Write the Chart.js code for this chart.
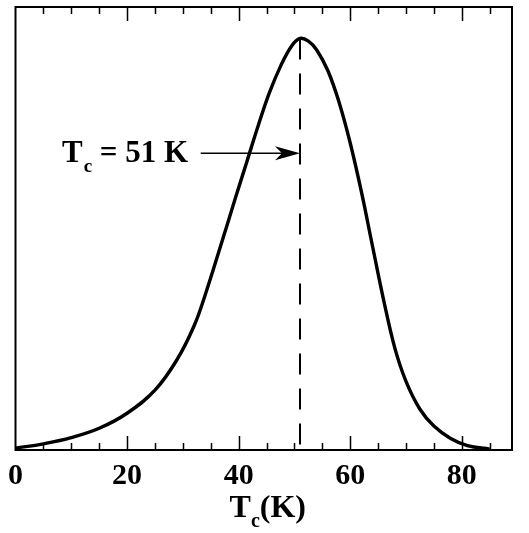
<!DOCTYPE html>
<html>
<head>
<meta charset="utf-8">
<script src="https://cdn.jsdelivr.net/npm/chart.js@4.4.1/dist/chart.umd.min.js"></script>
<style>
  html, body { margin: 0; padding: 0; background: #fff; }
  canvas { display: block; }
</style>
</head>
<body>
<canvas id="tcChart" width="529" height="533"></canvas>
<script>
// Tc distribution (arbitrary units, 0..100 of the plot height)
const tcValues = [0, 5, 10, 15, 20, 25, 29, 32, 34, 37, 39.5, 41.5, 43.5, 45.5, 47.5, 49.5, 51, 52.5, 54, 56, 58, 60, 62, 64, 66, 68, 70, 72.5, 75, 78, 81, 85];
const distValues = [0.4, 1.4, 2.8, 4.9, 8.3, 13.5, 20.5, 28.0, 35.0, 47.0, 57.2, 65.2, 73.2, 80.6, 86.6, 91.2, 92.9, 92.3, 90.3, 85.6, 78.5, 69.3, 58.3, 46.0, 33.8, 23.0, 15.5, 9.2, 5.4, 2.6, 1.0, 0.2];
const xTicks = [0, 20, 40, 60, 80];
const minorTicks = [5, 10, 15, 25, 30, 35, 45, 50, 55, 65, 70, 75, 85];
const majorTicks = [20, 40, 60, 80];

const tcMark = 51;        // marked Tc
const arrowY = 67;        // height of the arrow
const arrowFrom = 33.2;   // arrow tail
const xMax = 89;

const serif = '"Liberation Serif", "Times New Roman", serif';

const curve = tcValues.map((t, i) => ({ x: t, y: distValues[i] }));
const peak = distValues[tcValues.indexOf(tcMark)];

const frame = {
  id: 'frame',
  afterDatasetsDraw(chart) {
    const { ctx, chartArea: a, scales: { x, y } } = chart;
    ctx.save();
    ctx.strokeStyle = '#000';
    ctx.fillStyle = '#000';

    // box
    ctx.lineWidth = 2;
    ctx.strokeRect(a.left, a.top, a.right - a.left, a.bottom - a.top);

    // inward ticks, top and bottom
    ctx.lineWidth = 1.5;
    ctx.beginPath();
    const tick = (v, len) => {
      const px = Math.round(x.getPixelForValue(v)) + 0.5;
      ctx.moveTo(px, a.bottom); ctx.lineTo(px, a.bottom - len);
      ctx.moveTo(px, a.top); ctx.lineTo(px, a.top + len);
    };
    minorTicks.forEach(v => tick(v, 7));
    majorTicks.forEach(v => tick(v, 14));
    ctx.stroke();

    // arrow to the dashed line
    const ay = y.getPixelForValue(arrowY);
    const x0 = x.getPixelForValue(arrowFrom);
    const x1 = x.getPixelForValue(tcMark);
    ctx.lineWidth = 1.5;
    ctx.beginPath();
    ctx.moveTo(x0, ay); ctx.lineTo(x1 - 14, ay);
    ctx.stroke();
    ctx.beginPath();
    ctx.moveTo(x1, ay);
    ctx.lineTo(x1 - 25, ay - 7);
    ctx.lineTo(x1 - 18, ay);
    ctx.lineTo(x1 - 25, ay + 7);
    ctx.closePath();
    ctx.fill();

    // label "Tc = 51 K"
    ctx.textBaseline = 'alphabetic';
    ctx.textAlign = 'left';
    let tx = 62;
    const by = ay + 9;
    ctx.font = 'bold 31px ' + serif;
    ctx.fillText('T', tx, by);
    tx += ctx.measureText('T').width;
    ctx.font = 'bold 19px ' + serif;
    ctx.fillText('c', tx + 1, by + 10);
    tx += ctx.measureText('c').width + 1;
    ctx.font = 'bold 31px ' + serif;
    ctx.fillText(' = 51 K', tx, by);

    // axis title "Tc(K)"
    const cx = (a.left + a.right) / 2 + 4;
    const ty = 517;
    ctx.font = 'bold 32px ' + serif;
    const wT = ctx.measureText('T').width;
    const wK = ctx.measureText('(K)').width;
    ctx.font = 'bold 20px ' + serif;
    const wc = ctx.measureText('c').width;
    let sx = cx - (wT + wc + wK) / 2;
    ctx.font = 'bold 32px ' + serif;
    ctx.fillText('T', sx, ty);
    sx += wT;
    ctx.font = 'bold 20px ' + serif;
    ctx.fillText('c', sx, ty + 10);
    sx += wc;
    ctx.font = 'bold 32px ' + serif;
    ctx.fillText('(K)', sx, ty);
    ctx.restore();
  }
};

new Chart(document.getElementById('tcChart'), {
  type: 'line',
  data: {
    datasets: [
      {
        data: curve,
        borderColor: '#000',
        borderWidth: 3.4,
        pointRadius: 0,
        tension: 0.4,
        fill: false
      },
      {
        data: [{ x: tcMark, y: peak }, { x: tcMark, y: 0 }],
        borderColor: '#000',
        borderWidth: 2,
        borderDash: [21, 14],
        pointRadius: 0,
        fill: false
      }
    ]
  },
  options: {
    responsive: false,
    animation: false,
    devicePixelRatio: 1,
    layout: { padding: { left: 15, right: 17, top: 7, bottom: 0 } },
    plugins: { legend: { display: false }, tooltip: { enabled: false } },
    scales: {
      x: {
        type: 'linear',
        min: 0,
        max: xMax,
        afterFit: s => { s.height = 83; },
        afterBuildTicks: s => { s.ticks = xTicks.map(v => ({ value: v })); },
        grid: { display: false, drawTicks: false, tickLength: 0 },
        border: { display: false },
        ticks: {
          color: '#000',
          padding: 8,
          maxRotation: 0,
          autoSkip: false,
          font: { family: serif, size: 30, weight: 'bold' }
        }
      },
      y: {
        display: false,
        min: 0,
        max: 100
      }
    }
  },
  plugins: [frame]
});
</script>
</body>
</html>
